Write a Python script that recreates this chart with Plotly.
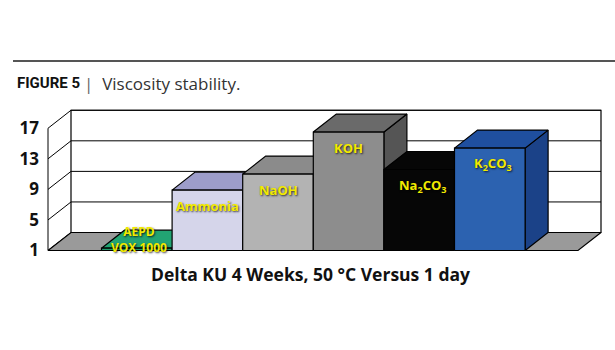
import plotly.graph_objects as go

# ---- data ----
categories = ["AEPD<br>VOX 1000", "Ammonia", "NaOH", "KOH", "Na<sub>2</sub>CO<sub>3</sub>", "K<sub>2</sub>CO<sub>3</sub>"]
values = [1.3, 8.9, 11.0, 16.5, 11.6, 14.4]
front_colors = ["#1f9b6b", "#d5d5ea", "#b3b3b3", "#8d8d8d", "#060606", "#2c62b0"]
top_colors = ["#22a473", "#9d9dca", "#8b8b8b", "#6a6a6a", "#060606", "#1f4f9f"]
side_colors = ["#178055", "#b2b2d4", "#7a7a7a", "#555555", "#060606", "#1b4288"]
tick_vals = [1, 5, 9, 13, 17]
tick_text = ["1", "5", "9", "13", "17"]
x_title = "Delta KU 4 Weeks, 50 °C Versus 1 day"

# ---- layout geometry ----
W, H = 615, 350
ML, MR, MT, MB = 42, 5, 100, 95
PW, PH = W - ML - MR, H - MT - MB
SX = 70.6          # px per category
SY = 7.64          # px per value unit
X0PX = 101.5       # pixel of x = -0.5
Y1PX = 250.5       # pixel of y = 1
x_lo = -0.5 - (X0PX - ML) / SX
x_hi = x_lo + PW / SX
y_lo = 1 - (MT + PH - Y1PX) / SY
y_hi = y_lo + PH / SY
DX = 23 / SX
DY = 18 / SY
XL = -0.5 - (X0PX - 48) / SX      # front left axis
XR = -0.5 + (578 - X0PX) / SX     # front right floor edge
base = tick_vals[0]
top = tick_vals[-1]


def px_paper_x(px):
    return (px - ML) / PW


def px_paper_y(py):
    return (MT + PH - py) / PH


fig = go.Figure()


def poly(xs, ys, fill, lw=1.2, lc="#000000"):
    fig.add_trace(go.Scatter(x=xs + [xs[0]], y=ys + [ys[0]], mode="lines", fill="toself",
                             fillcolor=fill, line=dict(color=lc, width=lw),
                             hoverinfo="skip", showlegend=False))


def seg(xs, ys, lw=1.0, color="#000000"):
    fig.add_trace(go.Scatter(x=xs, y=ys, mode="lines", line=dict(color=color, width=lw),
                             hoverinfo="skip", showlegend=False))


# back wall
poly([XL + DX, XR + DX, XR + DX, XL + DX], [base + DY, base + DY, top + DY, top + DY], "#ffffff")
for t in tick_vals[1:]:
    seg([XL + DX, XR + DX], [t + DY, t + DY])
# left wall
seg([XL, XL], [base, top])
for t in tick_vals:
    seg([XL, XL + DX], [t, t + DY])
# floor
poly([XL, XR, XR + DX, XL + DX], [base, base, base + DY, base + DY], "#9a9a9a")

# bars
for i, v in enumerate(values):
    l, r = i - 0.5, i + 0.5
    poly([r, r, r + DX, r + DX], [base, v, v + DY, base + DY], side_colors[i])
    poly([l, r, r + DX, l + DX], [v, v, v + DY, v + DY], top_colors[i])
    poly([l, r, r, l], [base, base, v, v], front_colors[i])

label_font = dict(family="Open Sans", size=13, color="#f2ea00",
                  shadow="1px 1px 2px rgba(0,0,0,0.75)")
small_font = dict(label_font, size=12)
for i, (c, v) in enumerate(zip(categories, values)):
    if "<br>" in c:
        fig.add_annotation(x=i + 0.03, y=v, text="<b>" + c + "</b>", showarrow=False,
                           yshift=9, font=small_font, yanchor="middle")
    else:
        fig.add_annotation(x=i + (0.04 if "sub" in c else 0), y=v, text="<b>" + c + "</b>",
                           showarrow=False, yshift=-16, font=label_font, yanchor="middle")

# title + rule
fig.add_shape(type="line", xref="paper", yref="paper", x0=px_paper_x(13), x1=px_paper_x(615),
              y0=px_paper_y(61), y1=px_paper_y(61), line=dict(color="#555555", width=2))
fig.add_annotation(xref="paper", yref="paper", x=px_paper_x(15), y=px_paper_y(83),
                   xanchor="left", yanchor="middle", showarrow=False,
                   text="<b>FIGURE 5</b>",
                   font=dict(family="Roboto", size=15, color="#111111"))
fig.add_annotation(xref="paper", yref="paper", x=px_paper_x(82), y=px_paper_y(83),
                   xanchor="left", yanchor="middle", showarrow=False,
                   text="<span style='color:#666'>|</span>  Viscosity stability.",
                   font=dict(family="Open Sans", size=17, color="#333333"))
fig.add_annotation(xref="paper", yref="paper", x=px_paper_x(310), y=px_paper_y(274),
                   xanchor="center", yanchor="middle", showarrow=False,
                   text="<b>" + x_title + "</b>",
                   font=dict(family="Open Sans", size=17.5, color="#111111"))

fig.update_layout(
    width=W, height=H, margin=dict(l=ML, r=MR, t=MT, b=MB),
    paper_bgcolor="#ffffff", plot_bgcolor="rgba(0,0,0,0)",
    xaxis=dict(range=[x_lo, x_hi], visible=False, fixedrange=True),
    yaxis=dict(range=[y_lo, y_hi], tickvals=tick_vals, ticktext=tick_text, showgrid=False,
               zeroline=False, showline=False, ticks="", ticklabelstandoff=2,
               tickfont=dict(family="Open Sans", size=17, color="#111111", weight="bold"),
               fixedrange=True),
    showlegend=False,
)
fig.write_html("out.html")
